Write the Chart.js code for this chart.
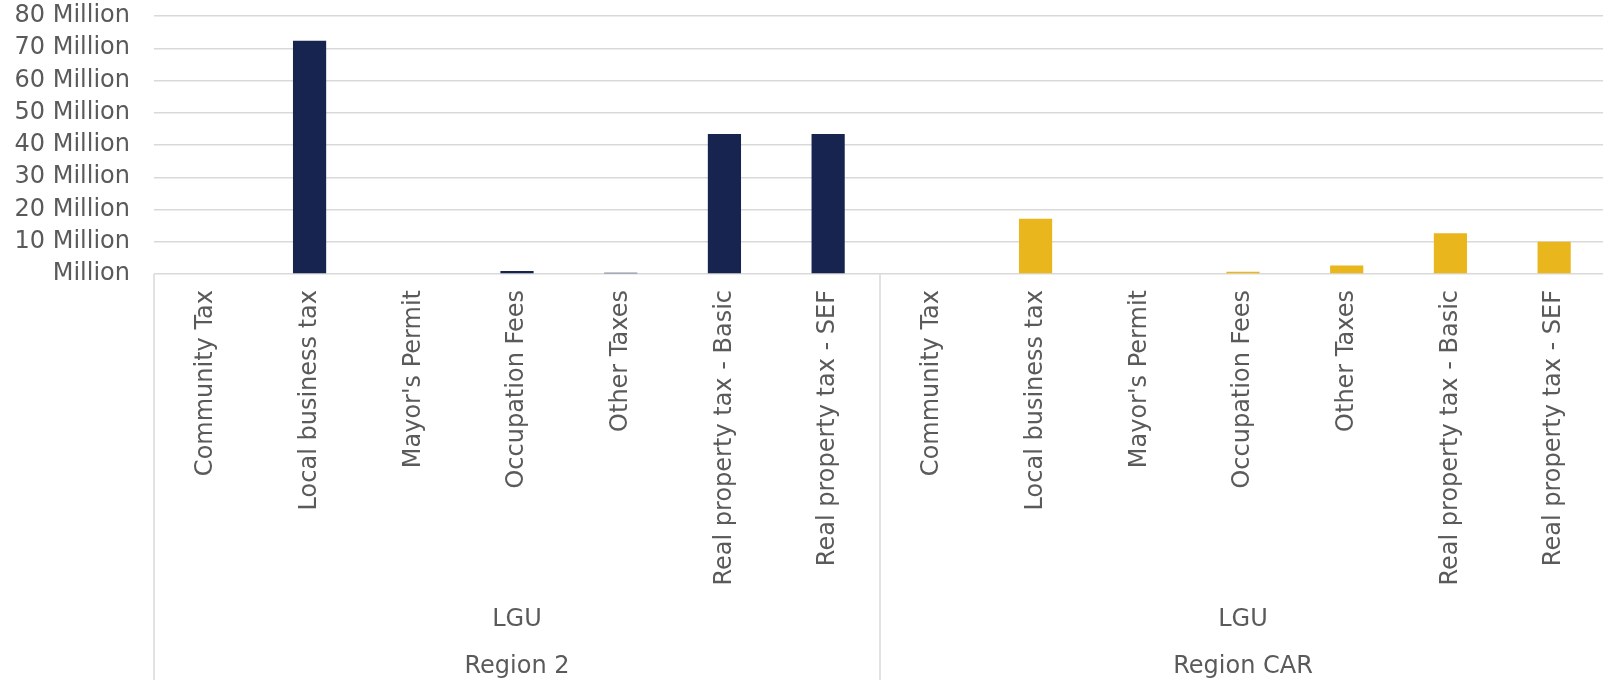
<!DOCTYPE html>
<html>
<head>
<meta charset="utf-8">
<script src="https://cdn.jsdelivr.net/npm/chart.js@4/dist/chart.umd.min.js"></script>
<style>
  html, body { margin: 0; padding: 0; background: #fff; overflow: hidden; }
  #wrap { width: 1608px; height: 680px; position: relative; }
</style>
</head>
<body>
<div id="wrap"><canvas id="chartImpostos"></canvas></div>
<script>
/* dados */
const categorias = ["Community Tax", "Local business tax", "Mayor's Permit", "Occupation Fees", "Other Taxes", "Real property tax - Basic", "Real property tax - SEF"];
const nivelLGU = ["LGU", "LGU"];
const regioes = ["Region 2", "Region CAR"];
const valoresRegion2 = [0, 72300000, 0, 900000, 400000, 43400000, 43400000];
const valoresRegionCAR = [0, 17100000, 0, 700000, 2600000, 12600000, 10000000];
const ticksY = [0, 10000000, 20000000, 30000000, 40000000, 50000000, 60000000, 70000000, 80000000];

const COR_TEXTO = "#5a5a5a";
const COR_GRADE = "#d9d9d9";
const FONTE = "'DejaVu Sans', sans-serif";

const labelsX = categorias.concat(categorias);
const n = categorias.length;
const dadosR2 = valoresRegion2.concat(new Array(n).fill(null));
const dadosCAR = new Array(n).fill(null).concat(valoresRegionCAR);

/* separadores e rótulos de grupo (LGU / região) */
const gruposPlugin = {
  id: "grupos",
  afterDraw(chart) {
    const x = chart.scales.x;
    const ctx = chart.ctx;
    const passo = x.getPixelForValue(1) - x.getPixelForValue(0);
    ctx.save();
    ctx.strokeStyle = COR_GRADE;
    ctx.lineWidth = 1.5;
    for (let g = 0; g <= regioes.length; g++) {
      const px = x.getPixelForValue(g * n) - passo / 2;
      ctx.beginPath();
      ctx.moveTo(px, x.top);
      ctx.lineTo(px, chart.height);
      ctx.stroke();
    }
    ctx.fillStyle = COR_TEXTO;
    ctx.font = "24px " + FONTE;
    ctx.textAlign = "center";
    ctx.textBaseline = "middle";
    regioes.forEach((reg, g) => {
      const ini = x.getPixelForValue(g * n) - passo / 2;
      const fim = x.getPixelForValue(g * n + n - 1) + passo / 2;
      const cx = (ini + fim) / 2;
      ctx.fillText(nivelLGU[g], cx, 620);
      ctx.fillText(reg, cx, 667);
    });
    ctx.restore();
  }
};

new Chart(document.getElementById("chartImpostos"), {
  type: "bar",
  data: {
    labels: labelsX,
    datasets: [
      { label: "Region 2", data: dadosR2, backgroundColor: "#17244f" },
      { label: "Region CAR", data: dadosCAR, backgroundColor: "#e9b61d" }
    ]
  },
  options: {
    responsive: true,
    maintainAspectRatio: false,
    animation: false,
    grouped: false,
    categoryPercentage: 1,
    barPercentage: 0.32,
    layout: { padding: { top: 16, right: 2, bottom: 0, left: 0 } },
    plugins: {
      legend: { display: false },
      tooltip: { enabled: false }
    },
    scales: {
      x: {
        grid: { display: false, drawTicks: false },
        border: { display: false },
        afterFit: (s) => { s.height = 406; },
        ticks: {
          color: COR_TEXTO,
          font: { family: FONTE, size: 24 },
          minRotation: 90,
          maxRotation: 90,
          autoSkip: false,
          padding: 16
        }
      },
      y: {
        min: 0,
        max: 80000000,
        afterFit: (s) => { s.width = 154; s.paddingTop = 0; s.paddingBottom = 0; },
        afterBuildTicks: (s) => { s.ticks = ticksY.map(v => ({ value: v })); },
        grid: { color: COR_GRADE, lineWidth: 1.5, drawTicks: false },
        border: { display: false },
        ticks: {
          color: COR_TEXTO,
          font: { family: FONTE, size: 24 },
          padding: 24,
          autoSkip: false,
          callback: (v) => v === 0 ? "Million" : (v / 1000000) + " Million"
        }
      }
    }
  },
  plugins: [gruposPlugin]
});
</script>
</body>
</html>
